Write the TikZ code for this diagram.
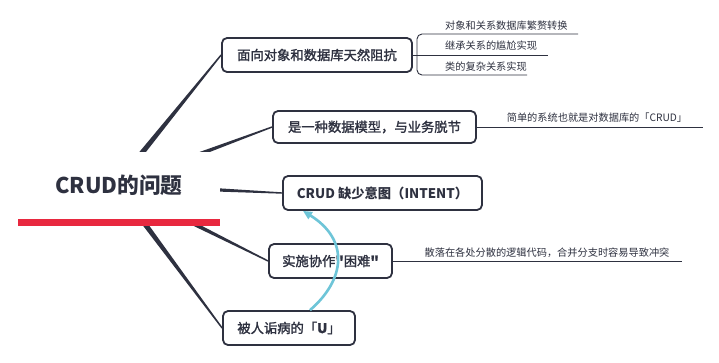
\documentclass[tikz,border=0pt]{standalone}
\usepackage{fontspec}
\setmainfont{Noto Sans CJK SC}
\newfontfamily\topicfont[FakeBold=1.6]{Noto Sans CJK SC}
\usetikzlibrary{calc,arrows.meta}
\definecolor{ink}{RGB}{46,49,64}
\definecolor{accent}{RGB}{232,40,63}
\definecolor{linkcol}{RGB}{110,197,216}
% tapered branch from the hub (#1) to a topic anchor (#2)
\newcommand\drawbranch[2]{%
  \fill[ink] ($(#1)!3.2pt!90:(#2)$) -- ($(#2)!0.7pt!-90:(#1)$)
    -- ($(#2)!0.7pt!90:(#1)$) -- ($(#1)!3.2pt!-90:(#2)$) -- cycle;}
\begin{document}
\begin{tikzpicture}[x=1pt,y=-1pt,
  topic/.style={draw=ink, line width=1.8pt, rounded corners=5pt, fill=white,
    inner sep=0pt, minimum height=34pt, text=ink,
    font=\topicfont\fontsize{13.3}{15}\selectfont},
  note/.style={inner sep=0pt, text=ink, font=\fontsize{10.2}{12}\selectfont},
  leaf/.style={draw=ink, line width=0.9pt},
]
\useasboundingbox[fill=white] (0,0) rectangle (719,362);

% main topics
\node[topic, minimum width=190pt] (t1) at (317,55) {面向对象和数据库天然阻抗};
\node[topic, minimum width=203pt, minimum height=32pt] (t2) at (374.5,127) {是一种数据模型，与业务脱节};
\node[topic, minimum width=199pt, font=\fontsize{13.3}{15}\selectfont\bfseries] (t3) at (382.5,193) {CRUD 缺少意图（INTENT）};
\node[topic, minimum width=123pt] (t4) at (330.5,261) {实施协作\textbf{"}困难\textbf{"}};
\node[topic, minimum width=132pt] (t5) at (289,328) {被人诟病的「\textbf{U}」};

% branches from the hub
\coordinate (hub) at (116,185);
\drawbranch{hub}{t1.west}
\drawbranch{hub}{t2.west}
\drawbranch{hub}{t3.west}
\drawbranch{hub}{t4.west}
\drawbranch{hub}{t5.west}

% central topic with its underline
\node[fill=white, minimum width=202pt, minimum height=67pt, inner sep=0pt,
  text=ink, font=\fontsize{21.7}{24}\selectfont\bfseries] (root) at (119,185.5) {\raisebox{-2pt}{CRUD的问题}};
\fill[accent] (root.south west) rectangle ($(root.south east)+(0,7)$);

% sub topics of t1
\coordinate (e11) at (578,34);
\coordinate (e12) at (548,55);
\coordinate (e13) at (527,75);
\draw[leaf] (t1.east) -- (e12);
\draw[leaf, rounded corners=5pt] (e11) -- (417,34) -- (417,75) -- (e13);
\node[note, anchor=west] (n11) at (445,26) {对象和关系数据库繁赘转换};
\node[note, anchor=west] (n12) at (445,46) {继承关系的尴尬实现};
\node[note, anchor=west] (n13) at (445,67) {类的复杂关系实现};

% sub topic of t2
\coordinate (e21) at (703,127);
\draw[leaf] (t2.east) -- (e21);
\node[note] (n21) at (597,118) {简单的系统也就是对数据库的「CRUD」};

% sub topic of t4
\coordinate (e41) at (682,261);
\draw[leaf] (t4.east) -- (e41);
\node[note] (n41) at (547,253) {散落在各处分散的逻辑代码，合并分支时容易导致冲突};

% relationship arrow
\draw[linkcol, line width=2.6pt, -{Triangle[length=9pt,width=8pt]}]
  ($(t5.north)+(21,0)$) .. controls (345,280) and (350,240) .. ($(t3.south)+(-79.5,0)$);
\end{tikzpicture}
\end{document}
